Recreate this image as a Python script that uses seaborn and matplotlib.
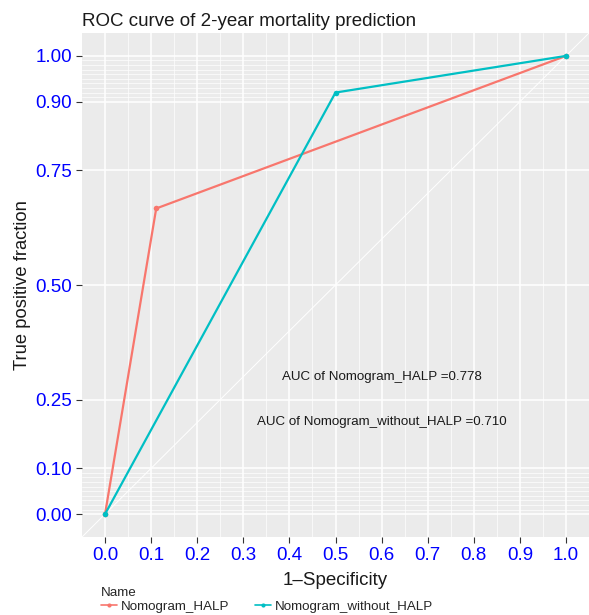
import numpy as np
import pandas as pd
import matplotlib
matplotlib.use("Agg")
import matplotlib.pyplot as plt
import seaborn as sns
from matplotlib.lines import Line2D

# ---- data ----
names = ["Nomogram_HALP", "Nomogram_without_HALP"]
fpr_halp = [0.0, 0.111, 1.0]
tpr_halp = [0.0, 0.667, 1.0]
fpr_wo = [0.0, 0.5, 1.0]
tpr_wo = [0.0, 0.92, 1.0]
auc_labels = ["AUC of Nomogram_HALP =0.778", "AUC of Nomogram_without_HALP =0.710"]
x_ticks = [0.0, 0.1, 0.2, 0.3, 0.4, 0.5, 0.6, 0.7, 0.8, 0.9, 1.0]
y_ticks = [0.0, 0.1, 0.25, 0.5, 0.75, 0.9, 1.0]
y_tick_labels = ["0.00", "0.10", "0.25", "0.50", "0.75", "0.90", "1.00"]
colors = ["#F8766D", "#00BFC4"]

df = pd.DataFrame({
    "fpr": fpr_halp + fpr_wo,
    "tpr": tpr_halp + tpr_wo,
    "Name": [names[0]] * len(fpr_halp) + [names[1]] * len(fpr_wo),
})

sns.set_theme(style="darkgrid")
plt.rcParams["font.family"] = ["Liberation Sans", "DejaVu Sans"]

fig = plt.figure(figsize=(5.89, 6.15), dpi=100)
ax = fig.add_axes([82 / 589, 1 - 537 / 615, 507 / 589, (537 - 33) / 615])
ax.set_facecolor("#EBEBEB")

sns.lineplot(data=df, x="fpr", y="tpr", hue="Name", palette=colors,
             marker="o", markersize=4, markeredgewidth=0, linewidth=1.6,
             sort=False, estimator=None, ax=ax, legend=False)

ax.set_xlim(-0.05, 1.05)
ax.set_ylim(-0.05, 1.05)
ax.axline((0, 0), (1, 1), color="white", linewidth=0.7, zorder=1)

ax.set_xticks(x_ticks)
ax.set_xticklabels([f"{v:.1f}" for v in x_ticks])
ax.set_yticks(y_ticks)
ax.set_yticklabels(y_tick_labels)
x_minor = [0.05 + 0.1 * i for i in range(10)]
y_minor = [i / 100 for i in range(0, 11)] + [0.9 + i / 100 for i in range(0, 11)]
ax.set_xticks(x_minor, minor=True)
ax.set_yticks(y_minor, minor=True)
ax.grid(which="major", color="white", linewidth=1.1)
ax.grid(which="minor", color="white", linewidth=0.5)
ax.set_axisbelow(True)
for s in ax.spines.values():
    s.set_visible(False)
ax.tick_params(which="major", length=4, width=0.8, color="#333333",
               labelsize=13.5, labelcolor="blue", pad=3, bottom=True, left=True)
ax.tick_params(which="minor", length=0)

ax.set_xlabel("1\u2013Specificity", fontsize=13.5, color="#1a1a1a", labelpad=6)
ax.set_ylabel("True positive fraction", fontsize=13.2, color="#1a1a1a", labelpad=3)
ax.set_title("ROC curve of 2-year mortality prediction", fontsize=13.5,
             color="#1a1a1a", loc="left", pad=5)

ax.text(0.6, 0.3, auc_labels[0], ha="center", va="center", fontsize=9.6, color="#1a1a1a")
ax.text(0.6, 0.2, auc_labels[1], ha="center", va="center", fontsize=9.6, color="#1a1a1a")

handles = [Line2D([0], [0], color=c, marker="o", markersize=3, markeredgewidth=0,
                  linewidth=1.2) for c in colors]
leg = fig.legend(handles, names, title="Name", loc="lower left",
                 bbox_to_anchor=(92 / 589, -0.012), ncol=2, frameon=False,
                 fontsize=9.6, title_fontsize=9.6, handlelength=1.2, handletextpad=0.3,
                 columnspacing=1.9, borderpad=0.2, labelspacing=0.15)
leg._legend_box.align = "left"

fig.savefig("out.png", dpi=100)
